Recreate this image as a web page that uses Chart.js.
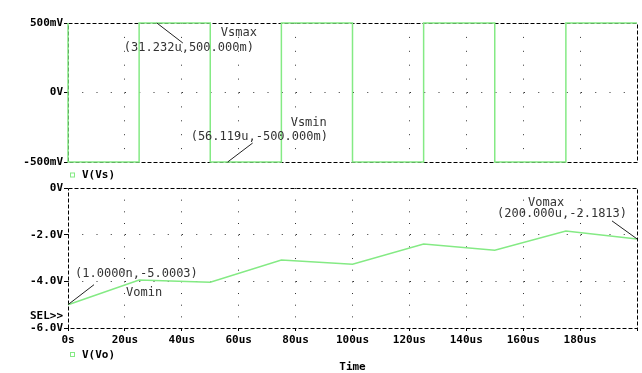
<!DOCTYPE html>
<html>
<head>
<meta charset="utf-8">
<script src="https://cdn.jsdelivr.net/npm/chart.js@4.4.1/dist/chart.umd.min.js"></script>
<style>
  body { margin: 0; background: #fff; }
  #wrap { position: relative; width: 642px; height: 373px; }
  canvas { position: absolute; left: 0; top: 0; }
</style>
</head>
<body>
<div id="wrap">
  <canvas id="vs" width="642" height="373"></canvas>
  <canvas id="vo" width="642" height="373"></canvas>
</div>
<script>
// time axis in microseconds
const vsTime = [0, 0, 25, 50, 75, 100, 125, 150, 175, 200];
const vsLevel = [0.5, -0.5, 0.5, -0.5, 0.5, -0.5, 0.5, -0.5, 0.5, 0.5];

const voTime = [0, 25, 50, 75, 100, 125, 150, 175, 200];
const voLevel = [-5.0003, -3.94, -4.04, -3.09, -3.27, -2.40, -2.67, -1.84, -2.1813];

const timeTicks = ['0s', '20us', '40us', '60us', '80us', '100us', '120us', '140us', '160us', '180us', ''];
const vsTicks = ['-500mV', '0V', '500mV'];
const voTicks = ['-6.0V', '-4.0V', '-2.0V', '0V'];

const vsMarkNames = ['Vsmax', 'Vsmin'];
const vsMarkTimes = [31.232, 56.119];
const vsMarkLevels = [0.5, -0.5];
const vsMarkLabels = ['(31.232u,500.000m)', '(56.119u,-500.000m)'];

const voMarkNames = ['Vomin', 'Vomax'];
const voMarkTimes = [0.001, 200];
const voMarkLevels = [-5.0003, -2.1813];
const voMarkLabels = ['(1.0000n,-5.0003)', '(200.000u,-2.1813)'];

const GREEN = '#84ea84';
const TICK_FONT = { family: 'DejaVu Sans Mono', size: 11, weight: 'bold' };
const BOLD = 'bold 11px "DejaVu Sans Mono"';
const NOTE = '12px "DejaVu Sans Mono"';

// offsets (px) of leader line end, name and value text from the marked point
const vsNoteLayout = [
  { line: [26, 20], name: [64, 9.5], value: [-33, 25] },
  { line: [25, -19], name: [63, -39], value: [-37, -25] },
];
const voNoteLayout = [
  { line: [26, -20], name: [58, -12], value: [7, -31] },
  { line: [-25, -18], name: [-109, -36], value: [-140, -25] },
];

const clear = 'rgba(0,0,0,0)';
const edgeColor = (lo, hi) => c => (c.tick && (c.tick.value === lo || c.tick.value === hi)) ? clear : '#333';

function drawFrame(chart) {
  const { ctx, chartArea: a } = chart;
  ctx.save();
  ctx.strokeStyle = '#000';
  ctx.lineWidth = 1;
  ctx.setLineDash([4, 2]);
  ctx.strokeRect(Math.round(a.left) + 0.5, Math.round(a.top) + 0.5,
    Math.round(a.right - a.left), Math.round(a.bottom - a.top));
  ctx.restore();
}

function drawNotes(chart, names, times, levels, labels, layout) {
  const { ctx, scales: { x, y } } = chart;
  ctx.save();
  ctx.font = NOTE;
  ctx.fillStyle = '#333';
  ctx.strokeStyle = '#222';
  ctx.lineWidth = 1;
  ctx.textBaseline = 'middle';
  ctx.textAlign = 'left';
  names.forEach((n, i) => {
    const px = x.getPixelForValue(times[i]);
    const py = y.getPixelForValue(levels[i]);
    const L = layout[i];
    ctx.beginPath();
    ctx.moveTo(px, py);
    ctx.lineTo(px + L.line[0], py + L.line[1]);
    ctx.stroke();
    ctx.fillText(n, px + L.name[0], py + L.name[1]);
    ctx.fillText(labels[i], px + L.value[0], py + L.value[1]);
  });
  ctx.restore();
}

function drawLegend(chart, text, y) {
  const { ctx, chartArea: a } = chart;
  ctx.save();
  ctx.strokeStyle = GREEN;
  ctx.lineWidth = 1;
  ctx.strokeRect(a.left + 2.5, y - 2.5, 4, 4);
  ctx.font = BOLD;
  ctx.fillStyle = '#000';
  ctx.textBaseline = 'middle';
  ctx.fillText(text, a.left + 14, y);
  ctx.restore();
}

const vsChart = new Chart(document.getElementById('vs'), {
  type: 'line',
  data: {
    datasets: [{
      label: 'V(Vs)',
      data: vsTime.map((t, i) => ({ x: t, y: vsLevel[i] })),
      borderColor: GREEN,
      borderWidth: 1.5,
      pointRadius: 0,
      stepped: 'before',
      clip: 3,
    }],
  },
  options: {
    responsive: false,
    animation: false,
    layout: { padding: { left: 0, right: 5, top: 23, bottom: 211 } },
    plugins: { legend: { display: false }, tooltip: { enabled: false } },
    scales: {
      x: {
        type: 'linear', min: 0, max: 200,
        ticks: { stepSize: 20, display: false },
        grid: { color: edgeColor(0, 200), drawTicks: false },
        border: { display: false, dash: [1, 12.9] },
        afterFit: s => { s.height = 0; },
      },
      y: {
        min: -0.5, max: 0.5,
        ticks: { stepSize: 0.5, font: TICK_FONT, color: '#000', padding: 1,
          callback: (v, i) => vsTicks[i] },
        grid: { color: edgeColor(-0.5, 0.5), tickLength: 4,
          tickColor: '#000', tickBorderDash: [] },
        border: { display: false, dash: [1, 13.25] },
        afterFit: s => { s.width = 68; },
      },
    },
  },
  plugins: [{
    id: 'vsDeco',
    beforeDatasetsDraw: c => drawFrame(c),
    afterDraw: c => {
      drawNotes(c, vsMarkNames, vsMarkTimes, vsMarkLevels, vsMarkLabels, vsNoteLayout);
      drawLegend(c, 'V(Vs)', c.chartArea.bottom + 13.5);
    },
  }],
});

const voChart = new Chart(document.getElementById('vo'), {
  type: 'line',
  data: {
    datasets: [{
      label: 'V(Vo)',
      data: voTime.map((t, i) => ({ x: t, y: voLevel[i] })),
      borderColor: GREEN,
      borderWidth: 1.5,
      pointRadius: 0,
      tension: 0,
      clip: 3,
    }],
  },
  options: {
    responsive: false,
    animation: false,
    layout: { padding: { left: 0, right: 5, top: 188, bottom: 0 } },
    plugins: { legend: { display: false }, tooltip: { enabled: false } },
    scales: {
      x: {
        type: 'linear', min: 0, max: 200,
        ticks: { stepSize: 20, font: TICK_FONT, color: '#000', padding: 3,
          maxRotation: 0, autoSkip: false, callback: (v, i) => timeTicks[i] },
        grid: { color: edgeColor(0, 200), tickLength: 3,
          tickColor: '#000', tickBorderDash: [] },
        border: { display: false, dash: [1, 10.67] },
        afterFit: s => { s.height = 45; },
      },
      y: {
        min: -6, max: 0,
        ticks: { stepSize: 2, font: TICK_FONT, color: '#000', padding: 1,
          callback: (v, i) => voTicks[i] },
        grid: { color: edgeColor(-6, 0), tickLength: 4,
          tickColor: '#000', tickBorderDash: [] },
        border: { display: false, dash: [1, 13.25] },
        afterFit: s => { s.width = 68; },
      },
    },
  },
  plugins: [{
    id: 'voDeco',
    beforeDatasetsDraw: c => drawFrame(c),
    afterDraw: c => {
      const { ctx, chartArea: a } = c;
      drawNotes(c, voMarkNames, voMarkTimes, voMarkLevels, voMarkLabels, voNoteLayout);
      drawLegend(c, 'V(Vo)', a.bottom + 27);
      ctx.save();
      ctx.font = BOLD;
      ctx.fillStyle = '#000';
      ctx.textBaseline = 'middle';
      ctx.textAlign = 'right';
      ctx.fillText('SEL>>', a.left - 5, a.bottom - 12);
      ctx.textAlign = 'center';
      ctx.fillText('Time', (a.left + a.right) / 2, a.bottom + 39);
      ctx.restore();
    },
  }],
});
</script>
</body>
</html>
